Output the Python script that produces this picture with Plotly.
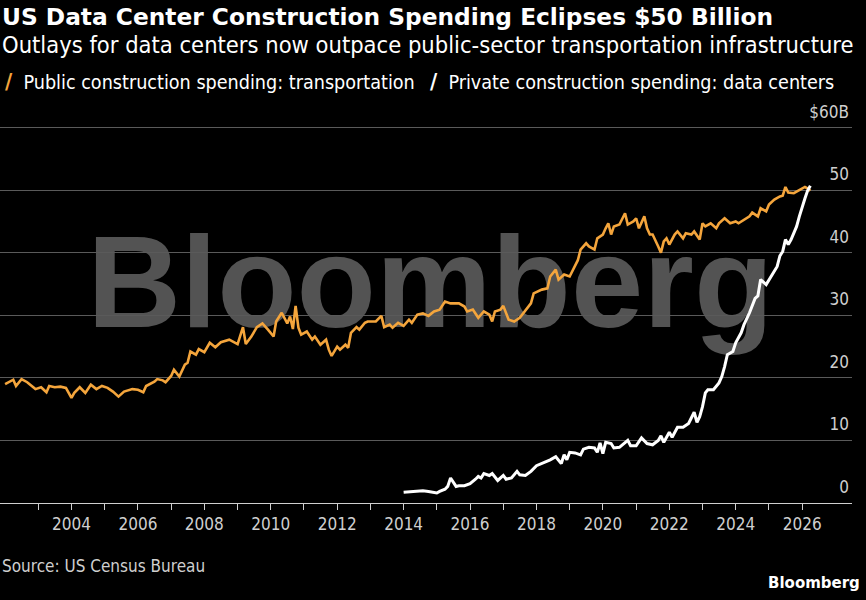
import plotly.graph_objects as go

# ---------------- data (US$ billions, seasonally adjusted annual rate) ----------------
transport_dates = [
    "2002-01", "2002-04", "2002-05", "2002-07", "2002-09", "2002-11", "2002-12",
    "2003-02", "2003-04", "2003-05", "2003-07", "2003-09", "2003-11",
    "2004-01", "2004-02", "2004-04", "2004-06", "2004-08", "2004-10", "2004-12",
    "2005-02", "2005-04", "2005-06", "2005-08", "2005-11",
    "2006-01", "2006-03", "2006-04", "2006-07", "2006-08", "2006-10", "2006-11",
    "2007-01", "2007-02", "2007-04", "2007-06", "2007-07", "2007-08", "2007-10", "2007-11",
    "2008-01", "2008-03", "2008-05", "2008-07", "2008-10",
    "2009-01", "2009-03", "2009-04", "2009-06", "2009-08", "2009-10", "2009-12",
    "2010-02", "2010-03", "2010-05", "2010-07", "2010-08", "2010-09", "2010-10", "2010-11", "2010-12",
    "2011-02", "2011-04", "2011-05", "2011-07", "2011-09", "2011-10", "2011-11",
    "2012-01", "2012-02", "2012-04", "2012-05", "2012-06", "2012-08", "2012-09", "2012-11", "2012-12",
    "2013-03", "2013-05", "2013-06", "2013-08", "2013-09", "2013-11",
    "2014-01", "2014-03", "2014-04", "2014-06", "2014-08", "2014-10", "2014-12",
    "2015-02", "2015-04", "2015-06", "2015-09", "2015-11", "2015-12",
    "2016-02", "2016-04", "2016-06", "2016-08", "2016-09", "2016-10", "2016-12",
    "2017-01", "2017-03", "2017-05", "2017-07", "2017-11", "2017-12",
    "2018-03", "2018-05", "2018-06", "2018-08", "2018-09", "2018-11",
    "2019-01", "2019-03", "2019-04", "2019-05", "2019-07", "2019-08", "2019-10", "2019-11",
    "2020-01", "2020-02", "2020-03", "2020-04", "2020-05", "2020-07", "2020-09", "2020-10", "2020-12",
    "2021-01", "2021-02", "2021-04", "2021-05", "2021-06", "2021-07", "2021-09", "2021-10", "2021-11", "2021-12",
    "2022-01", "2022-03", "2022-04", "2022-06", "2022-07", "2022-09", "2022-10", "2022-12",
    "2023-01", "2023-02", "2023-04", "2023-06", "2023-07", "2023-09", "2023-11",
    "2024-01", "2024-02", "2024-04", "2024-06", "2024-07", "2024-09", "2024-10", "2024-12",
    "2025-01", "2025-03", "2025-05", "2025-06", "2025-07", "2025-08", "2025-10", "2025-12",
    "2026-02", "2026-03", "2026-04",
]
transport_values = [
    19.0, 19.7, 18.7, 19.8, 19.3, 18.6, 18.2,
    18.5, 17.7, 18.7, 18.5, 18.6, 18.4,
    16.8, 17.6, 18.5, 17.6, 18.9, 18.2, 18.7,
    18.4, 17.8, 17.0, 17.8, 18.2,
    18.1, 17.7, 18.7, 19.4, 19.8, 19.6, 19.3,
    20.3, 21.3, 20.2, 22.1, 22.4, 24.2, 23.7, 24.6,
    24.1, 25.6, 24.9, 25.7, 26.1,
    25.4, 28.1, 25.4, 26.6, 28.1, 28.7, 27.7,
    26.6, 29.0, 30.4, 28.7, 29.8, 27.8, 31.5, 28.0, 26.9,
    27.4, 26.1, 26.6, 25.3, 26.1, 24.5, 23.5,
    25.0, 24.5, 25.3, 24.8, 27.2, 28.1, 27.7, 28.8, 29.0,
    29.0, 29.9, 28.1, 28.5, 28.0, 28.8,
    28.3, 29.3, 28.8, 30.1, 30.3, 29.9, 30.6,
    30.9, 32.2, 31.9, 31.9, 31.4, 30.6,
    30.9, 29.6, 30.6, 30.1, 29.0, 30.6, 30.9,
    31.5, 29.3, 29.0, 29.6, 31.9, 33.5,
    34.1, 34.3, 36.2, 37.3, 35.7, 36.5,
    36.2, 37.8, 38.8, 40.5, 41.5, 41.0, 40.5, 42.3,
    42.9, 43.9, 44.7, 42.9, 44.2, 44.5, 46.3, 44.5, 45.0,
    45.5, 43.9, 45.8, 43.9, 42.9, 42.9, 41.0, 40.0, 41.8, 42.3,
    41.3, 42.9, 43.4, 42.3, 43.1, 42.9, 43.4, 42.1,
    44.7, 44.2, 44.7, 43.9, 44.7, 45.5, 44.7,
    45.0, 44.7, 45.3, 45.8, 46.4, 45.8, 47.1, 46.6,
    47.7, 48.5, 49.0, 49.1, 50.5, 49.6, 49.5, 50.0,
    50.5, 50.3, 49.9,
]

datacenter_dates = [
    "2014-01", "2014-03", "2014-06", "2014-08", "2014-10",
    "2015-01", "2015-02", "2015-04", "2015-05", "2015-06", "2015-08", "2015-09", "2015-11",
    "2016-01", "2016-03", "2016-04", "2016-05", "2016-06", "2016-08", "2016-09", "2016-11",
    "2017-01", "2017-02", "2017-04", "2017-06", "2017-07", "2017-09", "2017-11",
    "2018-01", "2018-04", "2018-06", "2018-08", "2018-09", "2018-10", "2018-11", "2018-12",
    "2019-01", "2019-03", "2019-05", "2019-06", "2019-08", "2019-10", "2019-11", "2019-12",
    "2020-01", "2020-02", "2020-04", "2020-05", "2020-07", "2020-10", "2020-11",
    "2021-01", "2021-03", "2021-05", "2021-07", "2021-09", "2021-10", "2021-11",
    "2022-01", "2022-02", "2022-04", "2022-06", "2022-08", "2022-10", "2022-11", "2022-12",
    "2023-01", "2023-02", "2023-03", "2023-05", "2023-07", "2023-08", "2023-09", "2023-10", "2023-12",
    "2024-01", "2024-03", "2024-04", "2024-06", "2024-07", "2024-08", "2024-09", "2024-10", "2024-12",
    "2025-01", "2025-03", "2025-04", "2025-05", "2025-06", "2025-07", "2025-08", "2025-09", "2025-11", "2025-12",
    "2026-01", "2026-02", "2026-03", "2026-04",
]
datacenter_values = [
    1.7, 1.76, 1.85, 1.96, 1.85,
    1.6, 1.85, 2.2, 2.65, 4.0, 2.65, 2.76, 2.76,
    3.1, 3.8, 4.25, 4.0, 4.7, 4.4, 4.7, 3.6,
    4.4, 3.8, 4.0, 5.05, 4.5, 4.4, 5.05,
    5.96, 6.5, 6.9, 7.4, 6.9, 6.3, 7.7, 6.9,
    8.1, 8.0, 7.7, 8.6, 8.9, 8.8, 8.1, 9.6,
    7.9, 9.7, 9.5, 8.8, 8.9, 10.0, 9.15,
    9.15, 10.4, 9.5, 9.3, 10.0, 10.75, 9.7,
    11.3, 10.5, 12.1, 12.1, 12.7, 14.5, 12.9, 13.8,
    15.4, 17.6, 18.1, 18.1, 19.2, 20.2, 21.8, 23.7, 24.2,
    25.6, 27.2, 28.5, 30.4, 31.4, 32.7, 33.1, 35.7, 34.9,
    35.7, 37.0, 37.8, 39.5, 40.2, 42.1, 41.3, 42.1, 44.2, 45.8,
    47.4, 48.7, 49.9, 50.7,
]

year_ticks = list(range(2003, 2028))
y_ticks = [0, 10, 20, 30, 40, 50, 60]
y_ticktext = ["0", "10", "20", "30", "40", "50", "$60B"]

# ---------------- styling ----------------
ORANGE = "#f4a53c"
WHITE = "#ffffff"
AXIS_GREY = "#cfcfcf"
GRID = "#5a5a5a"
COND = "DejaVu Sans Condensed, Liberation Sans Narrow, Roboto, sans-serif"
BOLD = "DejaVu Sans, Verdana, sans-serif"

W, H = 866, 600
M_L, M_R, M_T, M_B = 0, 14, 100, 97
PLOT_H = H - M_T - M_B
Y_TOP = 64.4


def py(px):
    """pixel row -> paper y"""
    return (H - M_B - px) / PLOT_H


fig = go.Figure()
fig.add_trace(go.Scatter(
    x=transport_dates, y=transport_values, mode="lines",
    name="Public construction spending: transportation",
    line=dict(color=ORANGE, width=2.6), hoverinfo="x+y"))
fig.add_trace(go.Scatter(
    x=datacenter_dates, y=datacenter_values, mode="lines",
    name="Private construction spending: data centers",
    line=dict(color=WHITE, width=3), hoverinfo="x+y"))

# watermark behind gridlines
fig.add_shape(type="rect", xref="paper", yref="paper",
              x0=0.01, x1=1.0, y0=py(340), y1=py(200),
              line=dict(width=0), fillcolor="rgba(0,0,0,0)", layer="below",
              label=dict(text="<b>Bloomberg</b>", textposition="middle center",
                         font=dict(family="Liberation Sans, Arial, sans-serif",
                                   size=130, color="#535353")))

SLASH = "<span style='color:{c};font-size:22px'><b>/</b></span>&nbsp;&nbsp;"
annotations = [
    dict(text="<b>US Data Center Construction Spending Eclipses $50 Billion</b>",
         x=0, y=py(17), xanchor="left", yanchor="middle",
         font=dict(family=BOLD, size=23.3, color="#ffffff")),
    dict(text="Outlays for data centers now outpace public-sector transportation infrastructure",
         x=0, y=py(45), xanchor="left", yanchor="middle",
         font=dict(family=COND, size=23.5, color="#ffffff")),
    dict(text=SLASH.format(c=ORANGE) + "Public construction spending: transportation",
         x=0.004, y=py(81), xanchor="left", yanchor="middle",
         font=dict(family=COND, size=19.6, color="#ffffff")),
    dict(text=SLASH.format(c=WHITE) + "Private construction spending: data centers",
         x=428 / (W - M_R), y=py(81), xanchor="left", yanchor="middle",
         font=dict(family=COND, size=19.6, color="#ffffff")),
    dict(text="Source: US Census Bureau",
         x=0, y=py(566), xanchor="left", yanchor="middle",
         font=dict(family=COND, size=17, color=AXIS_GREY)),
    dict(text="<b>Bloomberg</b>",
         x=(W - 4) / (W - M_R), y=py(583), xanchor="right", yanchor="middle",
         font=dict(family=BOLD, size=15, color="#ffffff")),
]
for a in annotations:
    a.update(xref="paper", yref="paper", showarrow=False)

fig.update_layout(
    width=W, height=H,
    margin=dict(l=M_L, r=M_R, t=M_T, b=M_B, pad=0),
    paper_bgcolor="#000000", plot_bgcolor="#000000",
    showlegend=False,
    annotations=annotations,
    xaxis=dict(
        type="date",
        range=["2001-11-06", "2027-07-03"],
        tickvals=[f"{y}-01-01" for y in year_ticks],
        ticktext=[str(y) if y % 2 == 0 and y <= 2026 else "" for y in year_ticks],
        ticks="outside", ticklen=6, tickcolor=AXIS_GREY, tickwidth=1,
        showline=True, linecolor=AXIS_GREY, linewidth=1,
        showgrid=False, zeroline=False,
        tickfont=dict(family=COND, size=17, color=AXIS_GREY),
    ),
    yaxis=dict(
        side="right", range=[0, Y_TOP],
        tickvals=y_ticks, ticktext=y_ticktext,
        ticklabelposition="inside top", ticklabelshift=-4,
        showgrid=True, gridcolor=GRID, gridwidth=1,
        zeroline=False, showline=False, ticks="",
        tickfont=dict(family=COND, size=17, color=AXIS_GREY),
    ),
)

fig.write_html("out.html")
